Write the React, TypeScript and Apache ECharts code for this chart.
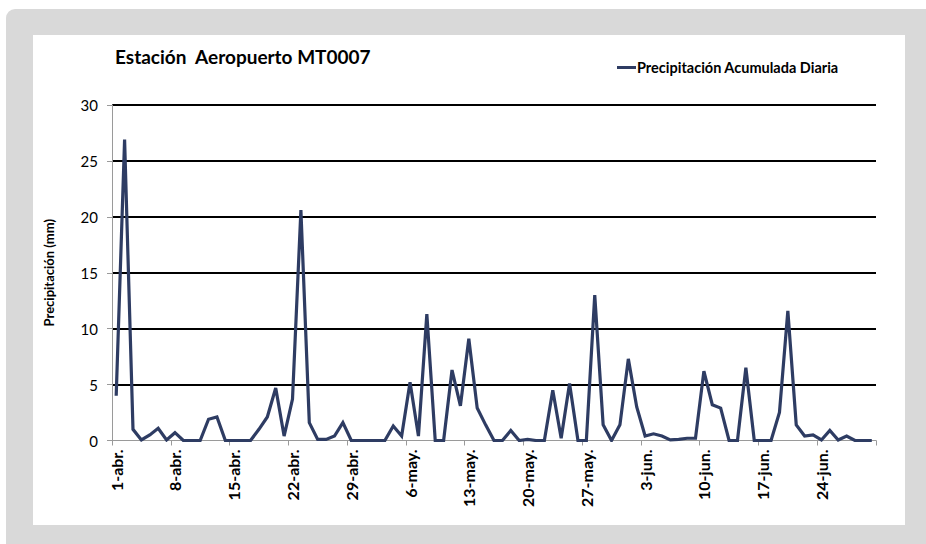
import React, { useEffect, useRef } from "react";
import * as echarts from "echarts";

const titleText = "Estación  Aeropuerto MT0007";
const seriesName = "Precipitación Acumulada Diaria";
const yAxisName = "Precipitación (mm)";

const months = [
  { name: "abr.", days: 30 },
  { name: "may.", days: 31 },
  { name: "jun.", days: 30 },
];

const categories: string[] = [];
months.forEach((m) => {
  for (let d = 1; d <= m.days; d++) categories.push(`${d}-${m.name}`);
});

const precipitation = [
  4.0, 26.9, 1.0, 0.05, 0.5, 1.1, 0.05, 0.7, 0, 0,
  0, 1.9, 2.1, 0, 0, 0, 0, 1.0, 2.1, 4.7,
  0.4, 3.7, 20.6, 1.6, 0.1, 0.1, 0.4, 1.6, 0, 0,
  0, 0, 0, 1.3, 0.4, 5.2, 0.4, 11.3, 0, 0,
  6.3, 3.1, 9.1, 2.9, 1.4, 0, 0, 0.9, 0, 0.1,
  0, 0, 4.5, 0.2, 5.1, 0, 0, 13.0, 1.4, 0,
  1.4, 7.3, 3.0, 0.4, 0.6, 0.4, 0.05, 0.1, 0.2, 0.2,
  6.2, 3.2, 2.9, 0, 0, 6.5, 0, 0, 0, 2.5,
  11.6, 1.4, 0.4, 0.5, 0.05, 0.9, 0.05, 0.4, 0, 0,
  0,
];

const yMin = 0;
const yMax = 30;
const yStep = 5;

const FONT = "Lato, 'Open Sans', sans-serif";

export default function App() {
  const ref = useRef<HTMLDivElement>(null);

  useEffect(() => {
    if (!ref.current) return;
    const chart = echarts.init(ref.current, undefined, { renderer: "svg" });
    chart.setOption({
      animation: false,
      backgroundColor: "transparent",
      textStyle: { fontFamily: FONT },
      graphic: [
        {
          type: "rect",
          z: -10,
          silent: true,
          shape: { x: 6, y: 9, width: 940, height: 560, r: 9 },
          style: { fill: "#d9d9d9" },
        },
        {
          type: "rect",
          z: -9,
          silent: true,
          shape: { x: 33, y: 35, width: 872, height: 490 },
          style: { fill: "#ffffff" },
        },
      ],
      title: {
        text: titleText,
        left: 110,
        top: 42,
        textStyle: {
          fontFamily: FONT,
          fontSize: 19,
          fontWeight: "bold",
          color: "#000",
        },
      },
      legend: {
        left: 612,
        top: 55,
        icon: "rect",
        itemWidth: 19,
        itemHeight: 3,
        itemGap: 10,
        textStyle: {
          fontFamily: FONT,
          fontSize: 14.5,
          fontWeight: "bold",
          color: "#000",
          padding: [0, 0, 0, -4],
        },
        data: [seriesName],
      },
      grid: {
        left: 112,
        right: 50,
        top: 105,
        bottom: 103.5,
        containLabel: false,
      },
      xAxis: {
        type: "category",
        data: categories,
        boundaryGap: true,
        axisLine: { lineStyle: { color: "#9a9a9a", width: 1 } },
        axisTick: {
          show: true,
          interval: 6,
          length: 5,
          lineStyle: { color: "#9a9a9a" },
        },
        axisLabel: {
          interval: 6,
          rotate: 90,
          margin: 9,
          fontFamily: FONT,
          fontSize: 16,
          fontWeight: "bold",
          color: "#000",
        },
        splitLine: { show: false },
      },
      yAxis: {
        type: "value",
        min: yMin,
        max: yMax,
        interval: yStep,
        name: yAxisName,
        nameLocation: "middle",
        nameGap: 57,
        nameRotate: 90,
        nameTextStyle: {
          fontFamily: FONT,
          fontSize: 13,
          fontWeight: "bold",
          color: "#000",
        },
        axisLine: { show: true, lineStyle: { color: "#9a9a9a", width: 1 } },
        axisTick: { show: true, length: 5, lineStyle: { color: "#9a9a9a" } },
        axisLabel: {
          margin: 14,
          fontFamily: FONT,
          fontSize: 15,
          color: "#000",
        },
        splitLine: {
          show: true,
          showMinLine: false,
          lineStyle: { color: "#000", width: 2 },
        },
      },
      series: [
        {
          name: seriesName,
          type: "line",
          data: precipitation,
          symbol: "none",
          color: "#2E3C63",
          lineStyle: { color: "#2E3C63", width: 3.2, join: "miter" },
        },
      ],
    });
    return () => chart.dispose();
  }, []);

  return (
    <div style={{ position: "absolute", left: 0, top: 0, width: 926, height: 544 }}>
      <div ref={ref} style={{ width: 926, height: 544 }} />
    </div>
  );
}
